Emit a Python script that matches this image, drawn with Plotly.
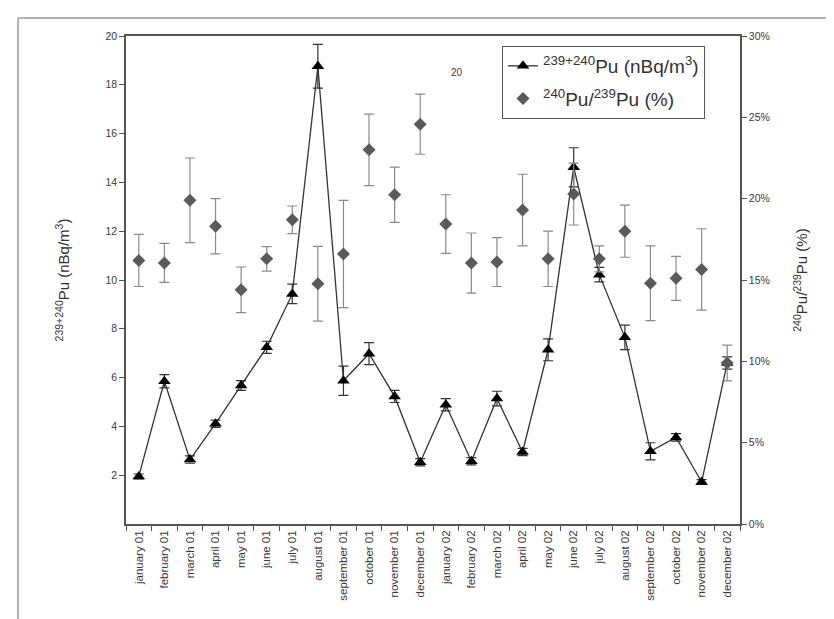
import plotly.graph_objects as go

months = ["january 01", "february 01", "march 01", "april 01", "may 01", "june 01",
          "july 01", "august 01", "september 01", "october 01", "november 01", "december 01",
          "january 02", "february 02", "march 02", "april 02", "may 02", "june 02",
          "july 02", "august 02", "september 02", "october 02", "november 02", "december 02"]

pu_activity = [1.95, 5.85, 2.64, 4.11, 5.68, 7.24, 9.43, 18.76, 5.87, 6.98, 5.23, 2.53,
               4.89, 2.57, 5.14, 2.95, 7.14, 14.62, 10.22, 7.65, 2.98, 3.55, 1.72, 6.6]
pu_activity_err = [0.1, 0.27, 0.15, 0.15, 0.2, 0.25, 0.4, 0.9, 0.6, 0.45, 0.25, 0.15,
                   0.25, 0.15, 0.3, 0.15, 0.45, 0.8, 0.3, 0.5, 0.35, 0.15, 0.1, 0.25]

ratio_pct = [16.2, 16.05, 19.9, 18.3, 14.4, 16.3, 18.7, 14.77, 16.6, 23.0, 20.24, 24.58,
             18.44, 16.04, 16.1, 19.3, 16.3, 20.28, 16.3, 18.0, 14.8, 15.1, 15.65, 9.9]
ratio_err = [1.6, 1.2, 2.6, 1.7, 1.4, 0.75, 0.85, 2.3, 3.3, 2.2, 1.7, 1.85,
             1.8, 1.85, 1.5, 2.2, 1.7, 1.9, 0.8, 1.6, 2.3, 1.35, 2.5, 1.1]

left_ticks = [2, 4, 6, 8, 10, 12, 14, 16, 18, 20]
right_ticks = [0, 5, 10, 15, 20, 25, 30]
right_tick_labels = ["0%", "5%", "10%", "15%", "20%", "25%", "30%"]

W, H = 834, 619
L, R, T, B = 118, 102, 28, 103
pw, ph = W - L - R, H - T - B

def px2paper_x(x):
    return (x - L) / pw

def px2paper_y(y):
    return (H - B - y) / ph

FONT = "Arial, Liberation Sans, Helvetica, sans-serif"

fig = go.Figure()

fig.add_trace(go.Scatter(
    x=months, y=ratio_pct, yaxis="y2", mode="markers",
    name="<sup>240</sup>Pu/<sup>239</sup>Pu (%)", legendgroup="b", legendrank=2,
    marker=dict(symbol="diamond", size=10, color="#5a5a5a"),
    error_y=dict(type="data", array=ratio_err, color="#8a8a8a", thickness=1.2, width=5),
))

fig.add_trace(go.Scatter(
    x=months, y=pu_activity, mode="lines+markers",
    name="<sup>239+240</sup>Pu (nBq/m<sup>3</sup>)", legendgroup="a", legendrank=1,
    line=dict(color="#333333", width=1.3),
    marker=dict(symbol="triangle-up", size=11, color="#000000"),
    error_y=dict(type="data", array=pu_activity_err, color="#333333", thickness=1.2, width=5),
))

fig.update_layout(
    width=W, height=H,
    margin=dict(l=L, r=R, t=T, b=B),
    paper_bgcolor="white", plot_bgcolor="white",
    font=dict(family=FONT, color="#333333", size=10),
    showlegend=True,
    legend=dict(
        x=px2paper_x(494), y=px2paper_y(38), xanchor="left", yanchor="top",
        bordercolor="#555555", borderwidth=1, bgcolor="rgba(255,255,255,0)",
        font=dict(size=19, family=FONT, color="#333333"),
        traceorder="grouped", itemwidth=30, tracegroupgap=5,
    ),
    xaxis=dict(
        type="category", categoryorder="array", categoryarray=months,
        range=[-0.5, len(months) - 0.5],
        showgrid=False, zeroline=False,
        showline=True, linecolor="#555555", linewidth=1.5, mirror=True,
        ticks="outside", tickson="boundaries", ticklen=5, tickcolor="#555555",
        tickangle=-90, tickfont=dict(size=11.5, family=FONT, color="#3a3a3a"),
    ),
    yaxis=dict(
        range=[0, 20], tickvals=left_ticks,
        showgrid=False, zeroline=False,
        showline=True, linecolor="#555555", linewidth=1.5,
        ticks="outside", ticklen=5, tickcolor="#555555",
        tickfont=dict(size=10.5, family=FONT, color="#3a3a3a"),
        title=dict(text="<sup>239+240</sup>Pu (nBq/m<sup>3</sup>)",
                   font=dict(size=15, family=FONT, color="#333333"), standoff=32),
    ),
    yaxis2=dict(
        range=[0, 30], tickmode="array", tickvals=right_ticks, ticktext=right_tick_labels,
        overlaying="y", side="right", anchor="x",
        showgrid=False, zeroline=False,
        showline=True, linecolor="#555555", linewidth=1.5,
        ticks="outside", ticklen=5, tickcolor="#555555",
        tickfont=dict(size=10.5, family=FONT, color="#3a3a3a"),
        title=dict(text="<sup>240</sup>Pu/<sup>239</sup>Pu (%)",
                   font=dict(size=15, family=FONT, color="#333333"), standoff=28),
    ),
    annotations=[dict(
        text="20", x=px2paper_x(449), y=px2paper_y(57), xref="paper", yref="paper",
        showarrow=False, font=dict(size=10, family=FONT, color="#444444"),
    )],
    shapes=[
        dict(type="line", xref="paper", yref="paper",
             x0=px2paper_x(10), x1=px2paper_x(W), y0=px2paper_y(10), y1=px2paper_y(10),
             line=dict(color="#9a9a9a", width=1.5)),
        dict(type="line", xref="paper", yref="paper",
             x0=px2paper_x(10), x1=px2paper_x(10), y0=px2paper_y(10), y1=px2paper_y(H),
             line=dict(color="#9a9a9a", width=1.5)),
    ],
)

fig.write_html("out.html")
